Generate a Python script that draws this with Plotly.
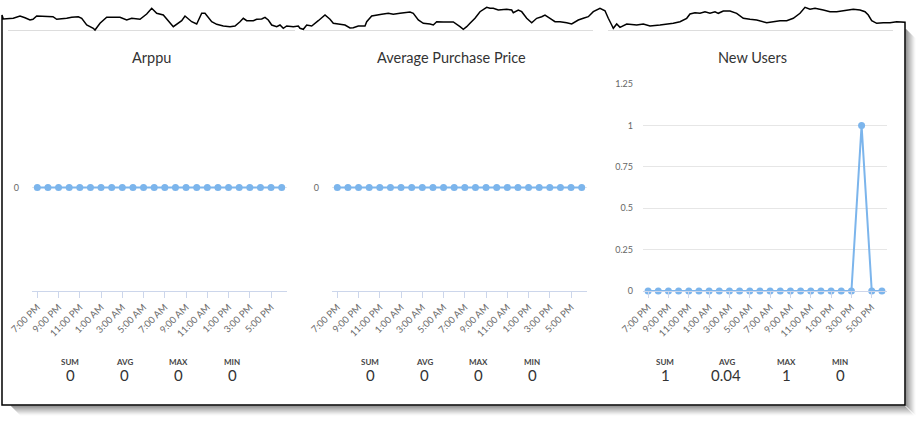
import plotly.graph_objects as go

W, H = 921, 422

# ---------------- data ----------------
hours = ["7:00 PM", "8:00 PM", "9:00 PM", "10:00 PM", "11:00 PM", "12:00 AM",
         "1:00 AM", "2:00 AM", "3:00 AM", "4:00 AM", "5:00 AM", "6:00 AM",
         "7:00 AM", "8:00 AM", "9:00 AM", "10:00 AM", "11:00 AM", "12:00 PM",
         "1:00 PM", "2:00 PM", "3:00 PM", "4:00 PM", "5:00 PM", "6:00 PM"]
arppu = [0] * 24
avg_purchase_price = [0] * 24
new_users = [0, 0, 0, 0, 0, 0, 0, 0, 0, 0, 0, 0,
             0, 0, 0, 0, 0, 0, 0, 0, 0, 1, 0, 0]
titles = ["Arppu", "Average Purchase Price", "New Users"]
stat_names = ["SUM", "AVG", "MAX", "MIN"]

# ---------------- layout helpers (pixel -> paper) ----------------
def px(x):
    return x / W

def py(y):
    return 1 - y / H

LINE = "#7cb5ec"
AXIS = "#ccd6eb"
GRID = "#e6e6e6"
FONT = "Lato"

panels = [
    dict(x0=32, x1=287, title_x=151, stats_x=[70, 124, 178, 232]),
    dict(x0=332, x1=587, title_x=451, stats_x=[370, 424, 478, 532]),
    dict(x0=643, x1=887, title_x=752, stats_x=[665, 726, 786, 840]),
]
plot_top, plot_bot = 84, 291
series = [arppu, avg_purchase_price, new_users]

fig = go.Figure()
xs = list(range(len(hours)))
tickv = xs[::2]
tickt = hours[::2]

def fmt(v):
    s = f"{v:.2f}".rstrip("0").rstrip(".")
    return "0" if s in ("", "-0") else s

annotations = []
for i, (p, ys) in enumerate(zip(panels, series)):
    n = "" if i == 0 else str(i + 1)
    fig.add_trace(go.Scatter(
        x=xs, y=ys, mode="lines+markers", xaxis="x" + n, yaxis="y" + n,
        line=dict(color=LINE, width=2), marker=dict(color=LINE, size=7),
        cliponaxis=False, showlegend=False, hoverinfo="skip"))
    xa = dict(domain=[px(p["x0"]), px(p["x1"])], anchor="y" + n,
              range=[-0.5, 23.5], tickvals=tickv, ticktext=tickt,
              tickangle=-45, showline=True, linecolor=AXIS, linewidth=1,
              ticks="outside", ticklen=6, tickcolor=AXIS, showgrid=False,
              zeroline=False, tickfont=dict(family=FONT, size=9.5, color="#6b6b6b"),
              fixedrange=True)
    if i < 2:
        ya = dict(range=[-1, 1], tickvals=[0], ticktext=["0"])
        standoff = 12
    else:
        ya = dict(range=[0, 1.25], tickvals=[0, 0.25, 0.5, 0.75, 1, 1.25],
                  ticktext=["0", "0.25", "0.5", "0.75", "1", "1.25"])
        standoff = 9
    ya.update(domain=[py(plot_bot), py(plot_top)], anchor="x" + n,
              showgrid=True, gridcolor=GRID, zeroline=False, showline=False,
              ticks="", ticklabelstandoff=standoff,
              tickfont=dict(family=FONT, size=9, color="#666"), fixedrange=True)
    fig.update_layout(**{"xaxis" + n: xa, "yaxis" + n: ya})

    annotations.append(dict(x=px(p["title_x"]), y=py(58), xref="paper", yref="paper",
                            text=titles[i], showarrow=False, xanchor="center",
                            yanchor="middle",
                            font=dict(family=FONT, size=14.5, color="#333")))
    vals = [sum(ys), sum(ys) / len(ys), max(ys), min(ys)]
    for sx, name, v in zip(p["stats_x"], stat_names, vals):
        annotations.append(dict(x=px(sx), y=py(362), xref="paper", yref="paper",
                                text="<b>" + name + "</b>", showarrow=False,
                                xanchor="center", yanchor="middle",
                                font=dict(family=FONT, size=8, color="#444")))
        annotations.append(dict(x=px(sx), y=py(375), xref="paper", yref="paper",
                                text=fmt(v), showarrow=False,
                                xanchor="center", yanchor="middle",
                                font=dict(family=FONT, size=15, color="#333")))

# ---------------- decoration: torn paper frame with shadow ----------------
torn = [(2, 15), (3.3, 19), (13.3, 18.3), (20, 16), (25, 17.7), (30, 20), (33, 19.3),
        (36.7, 16), (53, 16.7), (56.7, 19.3), (66.7, 18.3), (71.7, 17.3), (78.3, 16.7),
        (81.7, 18.3), (86.7, 25), (93.3, 28.3), (95, 30), (100, 23.3), (106.7, 17.3),
        (120, 17.3), (126.7, 20), (131.7, 18.3), (140, 19.3), (146.7, 14), (151.7, 8.3),
        (156.7, 13.3), (163.3, 15), (173.3, 26.7), (181.7, 20.7), (185, 16), (191.7, 21.7),
        (196.7, 24), (201.7, 13.3), (205, 13.3), (211.7, 21.7), (216.7, 24.3), (223.3, 26),
        (230, 26.7), (235, 26), (240, 21.7), (243.3, 18.3), (246.7, 20.7), (253.3, 20.7),
        (256.7, 19.3), (261.7, 19), (265, 17.3), (268.3, 20), (271.7, 25), (276.7, 26.7),
        (280, 25), (283.3, 28.3), (286.7, 26), (293.3, 26.7), (298.3, 26), (300, 28.3),
        (303.3, 29.3), (306.7, 25), (311.7, 26), (318.3, 20.7), (325, 15), (330, 19.3),
        (333.3, 23.3), (340, 24.3), (345, 25), (350, 28), (353.3, 27.7), (358.3, 26),
        (365, 26), (366.7, 21.7), (371.7, 16), (381.7, 14.3), (388.3, 13.3), (393.3, 14.3),
        (400, 13.3), (410, 12), (413.3, 13.3), (418.3, 20), (423.3, 23.3), (430, 24),
        (433.3, 25), (436.7, 21.7), (443.3, 22), (453.3, 22), (460, 26.7), (463.3, 29.3),
        (466.7, 26.7), (470, 23.3), (475, 18.3), (480, 11.7), (486.7, 7.3), (490, 8.3),
        (493.3, 8.3), (498.3, 10), (506.7, 9.3), (511.7, 10), (513.3, 12.7), (518.3, 10),
        (521.7, 11.7), (526.7, 18.3), (531.7, 22.7), (536.7, 18.3), (541.7, 16.7),
        (545, 15), (550, 18.3), (555, 21.7), (560, 21.7), (566.7, 22.7), (571.7, 24),
        (578.3, 20), (583.3, 18.3), (588.3, 16.7), (593.3, 11.7), (600, 8.3), (605, 10.7),
        (608.3, 18.3), (611.7, 25), (613.3, 28.3), (616.7, 24), (620, 27.3), (626.7, 24),
        (636.7, 25), (643.3, 24), (650, 26), (660, 25), (673.3, 23.3), (680, 21.7),
        (686.7, 18.3), (690, 14), (695, 12.7), (700, 13.3), (705, 11.7), (710, 13.3),
        (715, 11.7), (718.3, 13.3), (723.3, 11), (730, 11), (736.7, 13.3), (743.3, 18.3),
        (750, 19.3), (756.7, 20), (766.7, 22.7), (773.3, 21.7), (780, 20.7), (786.7, 20.7),
        (793.3, 18.3), (800, 13.3), (805, 7.3), (810, 9.3), (815, 8.3), (823.3, 10),
        (830, 11.7), (836.7, 11.7), (843.3, 10.7), (853.3, 9.3), (860, 10), (865, 11.7),
        (868.3, 15), (871.7, 20.7), (876.7, 23.3), (883.3, 22.7), (890, 22.7),
        (896.7, 21.7), (905, 22.3)]
frame_right, frame_bottom, frame_left = 905, 405, 2

shapes = []
# shadow
for d in range(1, 11):
    a = 0.55 * (1 - d / 11) ** 1.3
    col = f"rgba(0,0,0,{a:.3f})"
    shapes.append(dict(type="line", xref="paper", yref="paper",
                       x0=px(frame_right + d), x1=px(frame_right + d),
                       y0=py(28 + d), y1=py(frame_bottom + d),
                       line=dict(color=col, width=1)))
    shapes.append(dict(type="line", xref="paper", yref="paper",
                       x0=px(frame_left + 8 + d), x1=px(frame_right + d - 1),
                       y0=py(frame_bottom + d), y1=py(frame_bottom + d),
                       line=dict(color=col, width=1)))
# panel header separators
for a, b in [(8, 295), (303, 593), (608, 893)]:
    shapes.append(dict(type="line", xref="paper", yref="paper",
                       x0=px(a), x1=px(b), y0=py(30.5), y1=py(30.5),
                       line=dict(color="#dddddd", width=1)))
# frame path
pts = torn + [(frame_right, frame_bottom), (frame_left, frame_bottom)]
path = "M " + " L ".join(f"{px(x):.5f},{py(y):.5f}" for x, y in pts) + " Z"
shapes.append(dict(type="path", xref="paper", yref="paper", path=path,
                   line=dict(color="black", width=1.5)))

fig.update_layout(width=W, height=H, margin=dict(l=0, r=0, t=0, b=0),
                  paper_bgcolor="white", plot_bgcolor="rgba(0,0,0,0)",
                  template="none", shapes=shapes, annotations=annotations,
                  hovermode=False, font=dict(family=FONT))

fig.write_html("out.html", config={"displayModeBar": False},
               post_script="document.body.style.margin='0';document.body.style.overflow='hidden';")
